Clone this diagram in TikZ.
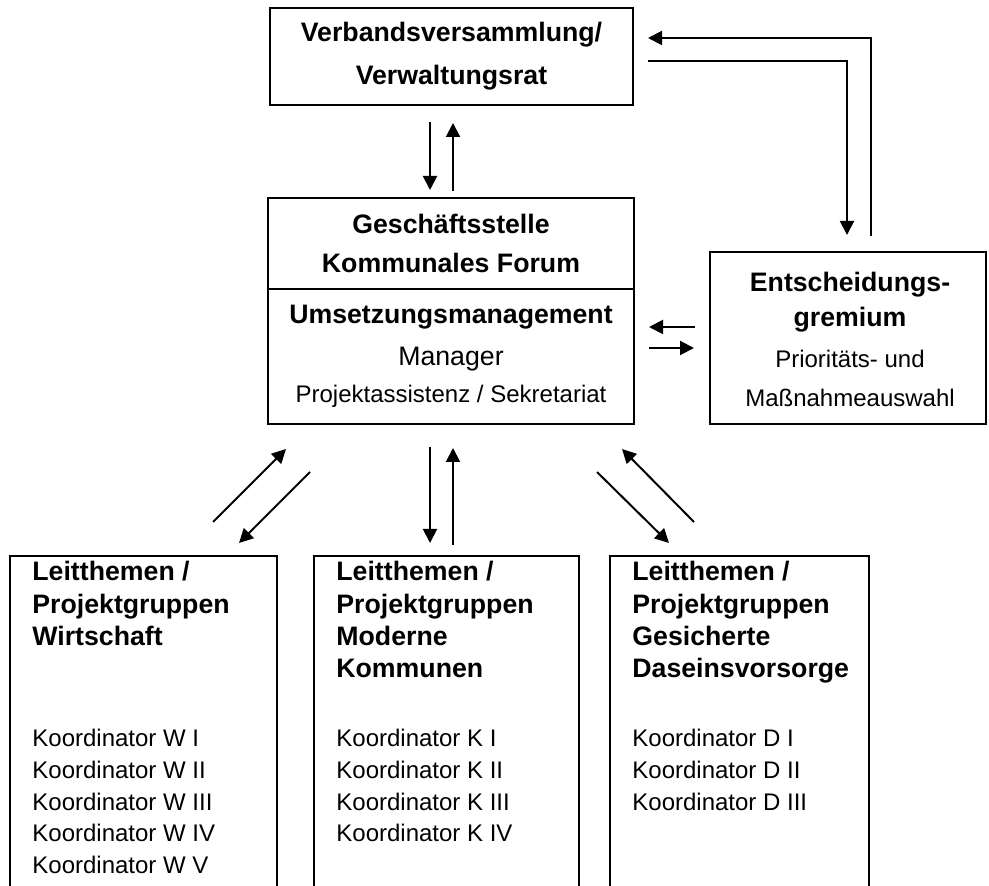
\documentclass[tikz,border=0pt]{standalone}
\usepackage{fontspec}
\setmainfont{Liberation Sans}
\usetikzlibrary{arrows.meta}
\tikzset{
  boxline/.style={draw, line width=1pt},
  frame/.style={boxline, inner sep=0pt, outer sep=0pt},
  conn/.style={line width=1pt, -{Triangle[length=7pt,width=7pt]}},
  hd/.style={inner sep=0pt, font=\bfseries\fontsize{13.35pt}{16pt}\selectfont},
  big/.style={inner sep=0pt, font=\fontsize{13.35pt}{16pt}\selectfont},
  sm/.style={inner sep=0pt, font=\fontsize{12pt}{14pt}\selectfont},
}
\begin{document}
\begin{tikzpicture}[x=0.5pt,y=-0.5pt]
\useasboundingbox (0,0) rectangle (989,886);
% boxes
\node[frame, minimum width=181.5pt, minimum height=48.5pt] (top) at (451.5,56.5) {};
\node[frame, minimum width=183pt, minimum height=113pt] (mid) at (451,311) {};
\node[frame, minimum width=138pt, minimum height=86pt] (ent) at (848,338) {};
\draw[boxline] (268,289) -- (634,289);
\draw[boxline] (10,887) -- (10,556) -- (277,556) -- (277,887);
\draw[boxline] (314,887) -- (314,556) -- (579,556) -- (579,887);
\draw[boxline] (610,887) -- (610,556) -- (869,556) -- (869,887);
% top box text
\node[hd, anchor=base] (t1) at (451.5,42) {Verbandsversammlung/};
\node[hd, anchor=base] (t2) at (451.5,85) {Verwaltungsrat};
% middle box text
\node[hd, anchor=base] (m1) at (451,234) {Geschäftsstelle};
\node[hd, anchor=base] (m2) at (451,273) {Kommunales Forum};
\node[hd, anchor=base] (m3) at (451,324) {Umsetzungsmanagement};
\node[big, anchor=base] (m4) at (451,366) {Manager};
\node[sm, anchor=base] (m5) at (451,403) {Projektassistenz / Sekretariat};
% right box text
\node[hd, anchor=base] (e1) at (850,292) {Entscheidungs-};
\node[hd, anchor=base] (e2) at (850,327) {gremium};
\node[sm, anchor=base] (e3) at (850,368) {Prioritäts- und};
\node[sm, anchor=base] (e4) at (850,407) {Maßnahmeauswahl};
% bottom left
\node[hd, anchor=base west] (w1) at (32,581) {Leitthemen /};
\node[hd, anchor=base west] (w2) at (32,613) {Projektgruppen};
\node[hd, anchor=base west] (w3) at (32,645) {Wirtschaft};
\node[sm, anchor=base west] (w4) at (32,746) {Koordinator W I};
\node[sm, anchor=base west] (w5) at (32,778) {Koordinator W II};
\node[sm, anchor=base west] (w6) at (32,810) {Koordinator W III};
\node[sm, anchor=base west] (w7) at (32,841) {Koordinator W IV};
\node[sm, anchor=base west] (w8) at (32,873) {Koordinator W V};
% bottom middle
\node[hd, anchor=base west] (k1) at (336,581) {Leitthemen /};
\node[hd, anchor=base west] (k2) at (336,613) {Projektgruppen};
\node[hd, anchor=base west] (k3) at (336,645) {Moderne};
\node[hd, anchor=base west] (k4) at (336,677) {Kommunen};
\node[sm, anchor=base west] (k5) at (336,746) {Koordinator K I};
\node[sm, anchor=base west] (k6) at (336,778) {Koordinator K II};
\node[sm, anchor=base west] (k7) at (336,810) {Koordinator K III};
\node[sm, anchor=base west] (k8) at (336,841) {Koordinator K IV};
% bottom right
\node[hd, anchor=base west] (d1) at (632,581) {Leitthemen /};
\node[hd, anchor=base west] (d2) at (632,613) {Projektgruppen};
\node[hd, anchor=base west] (d3) at (632,645) {Gesicherte};
\node[hd, anchor=base west] (d4) at (632,677) {Daseinsvorsorge};
\node[sm, anchor=base west] (d5) at (632,746) {Koordinator D I};
\node[sm, anchor=base west] (d6) at (632,778) {Koordinator D II};
\node[sm, anchor=base west] (d7) at (632,810) {Koordinator D III};
% connector end points
\coordinate (a1s) at (871,236); \coordinate (a1c) at (871,38); \coordinate (a1e) at (648,38);
\coordinate (a2s) at (648,61); \coordinate (a2c) at (847,61); \coordinate (a2e) at (847,235);
\coordinate (b1s) at (430,122); \coordinate (b1e) at (430,190);
\coordinate (b2s) at (453,191); \coordinate (b2e) at (453,123);
\coordinate (c1s) at (695,327); \coordinate (c1e) at (649,327);
\coordinate (c2s) at (649,348); \coordinate (c2e) at (694,348);
\coordinate (l1s) at (213,522); \coordinate (l1e) at (286,449);
\coordinate (l2s) at (310,472); \coordinate (l2e) at (239,543);
\coordinate (v1s) at (430,447); \coordinate (v1e) at (430,543);
\coordinate (v2s) at (453,545); \coordinate (v2e) at (453,448);
\coordinate (r1s) at (694,522); \coordinate (r1e) at (622,449);
\coordinate (r2s) at (597,472); \coordinate (r2e) at (669,543);
% connectors
\draw[conn] (a1s) -- (a1c) -- (a1e);
\draw[conn] (a2s) -- (a2c) -- (a2e);
\draw[conn] (b1s) -- (b1e);
\draw[conn] (b2s) -- (b2e);
\draw[conn] (c1s) -- (c1e);
\draw[conn] (c2s) -- (c2e);
\draw[conn] (l1s) -- (l1e);
\draw[conn] (l2s) -- (l2e);
\draw[conn] (v1s) -- (v1e);
\draw[conn] (v2s) -- (v2e);
\draw[conn] (r1s) -- (r1e);
\draw[conn] (r2s) -- (r2e);
\end{tikzpicture}
\end{document}
